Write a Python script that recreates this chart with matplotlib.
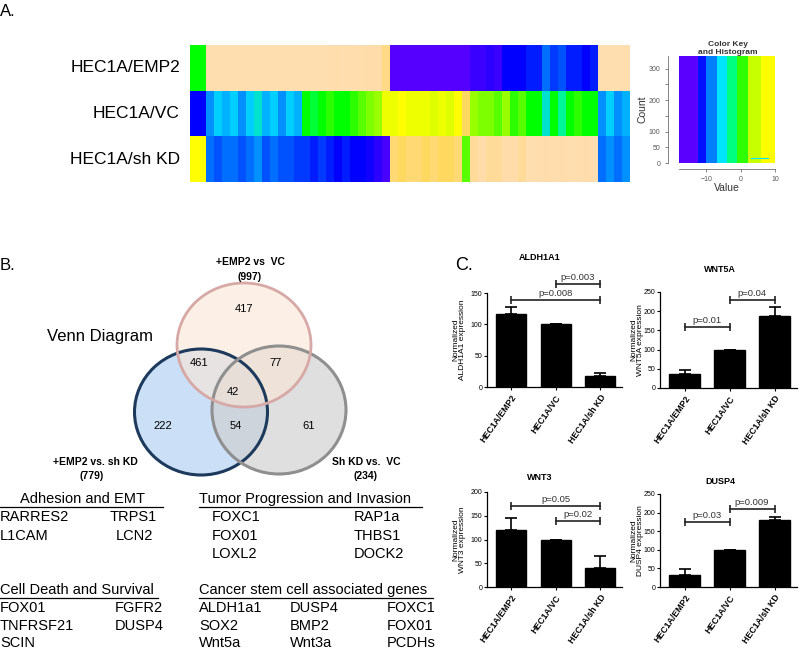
import numpy as np
import matplotlib
matplotlib.use("Agg")
import matplotlib.pyplot as plt
from matplotlib.colors import LinearSegmentedColormap, Normalize
from matplotlib.patches import Ellipse

plt.rcParams['font.family'] = ['Liberation Sans', 'DejaVu Sans']

# ---------------- data ----------------
heat_rows = ["HEC1A/EMP2", "HEC1A/VC", "HEC1A/sh KD"]
heat_emp2 = [0, 0,
             14, 14, 14, 14, 14, 14, 14, 14, 14, 14, 14, 14, 14, 14, 14, 14, 13.5, 14, 13.5, 13.5, 13, 13, 12,
             -18, -18, -18, -18, -18, -18, -18, -18, -18, -18, -16, -16, -15, -16, -12, -12, -12, -11, -11,
             -8, -10, -9, -11, -11, -12, -11,
             14, 14, 14, 14]
heat_vc = [-12, -12,
           -7, -5, -6, -5, -7, -5, -4, -6, -5, -7, -5, -6, 0, -1, 0, 1, 0, 0, 1, 2, 3, 4, 8,
           8, 9, 8, 8, 8, 7, 8, 7, 9, 11, 4, 3, 3, 2, 4, 1, 2, 0, 0,
           -4, 0, -3, 0, 1, 0, 0,
           -7, -5, -7, -6]
heat_kd = [9, 9,
           -8, -9, -8, -8, -9, -8, -7, -9, -8, -9, -9, -10, -10, -11, -10, -11, -12, -11, -12, -12, -13, -15, -17,
           11.5, 11, 11.5, 11.5, 11, 11.5, 11, 11, 11.5, 2, 12.5, 13, 12.5, 12.5, 13, 13, 12.5, 14, 14,
           13, 14, 13, 14, 14, 13, 14,
           -8, -7, -8, -7]

key_edges = [-18, -12.5, -10, -7, -4, -1, 2, 6, 10]
key_hist_x = [3, 8]
key_hist_y = [15, 15]

venn_counts = {"417": (244, 309), "461": (199, 363), "77": (276, 363), "42": (233, 392),
               "222": (163, 426), "54": (236, 426), "61": (309, 426)}

groups = ["HEC1A/EMP2", "HEC1A/VC", "HEC1A/sh KD"]
aldh_mean = [116, 100, 17]
aldh_err = [11, 0.6, 6]
wnt5a_mean = [37, 100, 187]
wnt5a_err = [11, 0, 25]
wnt3_mean = [120, 100, 40]
wnt3_err = [26, 0, 26]
dusp4_mean = [33, 100, 180]
dusp4_err = [15, 0, 8]
aldh_p = [(0, 2, 139, "p=0.008"), (1, 2, 164, "p=0.003")]
wnt5a_p = [(0, 1, 159, "p=0.01"), (1, 2, 229, "p=0.04")]
wnt3_p = [(0, 2, 170, "p=0.05"), (1, 2, 139, "p=0.02")]
dusp4_p = [(0, 1, 175, "p=0.03"), (1, 2, 210, "p=0.009")]

W, H = 800, 651
fig = plt.figure(figsize=(W / 100, H / 100), dpi=100)


def px_axes(x0, y0, x1, y1):
    return fig.add_axes([x0 / W, 1 - y1 / H, (x1 - x0) / W, (y1 - y0) / H])


# overlay for free text and Venn
ov = px_axes(0, 0, W, H)
ov.set_xlim(0, W)
ov.set_ylim(H, 0)
ov.axis("off")

# ---------------- A: heatmap ----------------
cmap = LinearSegmentedColormap.from_list(
    "heat",
    [(0.0, "#5500ff"), (6 / 33, "#0000ff"), (10 / 33, "#0070ff"), (13 / 33, "#00d0ff"),
     (15.5 / 33, "#00ff80"), (18 / 33, "#00ff00"), (21 / 33, "#80ff00"), (24 / 33, "#ccff00"),
     (27 / 33, "#ffff00"), (29 / 33, "#ffd860"), (31 / 33, "#ffdcaa"), (1.0, "#fee0b4")])
norm = Normalize(-18, 15)

hx = px_axes(190, 45, 630, 182)
heat = np.array([heat_emp2, heat_vc, heat_kd])
hx.pcolormesh(heat, cmap=cmap, norm=norm)
hx.set_ylim(3, 0)
hx.axis("off")
for i, name in enumerate(heat_rows):
    ov.text(180, 68 + 45.5 * i, name, ha="right", va="center", fontsize=12.5)
ov.text(0, 12, "A.", fontsize=12, va="center")

# color key
kx = px_axes(679, 56, 775, 163)
key_cols = ['#5a00ff', '#0010ff', '#0080ff', '#00e5ff', '#00ff80', '#30ff00', '#c8ff00', '#ffff00']
for a, b, c in zip(key_edges[:-1], key_edges[1:], key_cols):
    kx.axvspan(a, b, color=c, lw=0)
kx.plot(key_hist_x, key_hist_y, color="#00e5ff", lw=0.8)
kx.set_xlim(-18, 10)
kx.set_ylim(0, 340)
kx.set_yticks([0, 50, 100, 150, 200, 250, 300])
kx.set_yticklabels(["0", "50", "100", "", "200", "", "300"], rotation=90, va="center")
kx.set_xticks([-10, 0, 10])
kx.tick_params(labelsize=5, colors="#555555", length=2, width=0.5)
for s in ["top", "right"]:
    kx.spines[s].set_visible(False)
kx.spines["left"].set_position(("outward", 8))
kx.spines["bottom"].set_position(("outward", 4))
for s in ["left", "bottom"]:
    kx.spines[s].set_linewidth(0.5)
    kx.spines[s].set_color("#555555")
kx.set_xlabel("Value", fontsize=7.5, labelpad=0, color="#333333")
kx.set_ylabel("Count", fontsize=7.5, labelpad=1, color="#333333")
ov.text(728, 45, "Color Key", ha="center", va="center", fontsize=6, fontweight="bold", color="#333333")
ov.text(728, 53, "and Histogram", ha="center", va="center", fontsize=6, fontweight="bold", color="#333333")

# ---------------- B: Venn ----------------
ov.text(0, 265, "B.", fontsize=12, va="center")
ov.add_patch(Ellipse((201, 412), 133, 126, fc="#c6dcf5", ec="none", alpha=0.9))
ov.add_patch(Ellipse((279, 410), 134, 128, fc="#cfcfcf", ec="none", alpha=0.65))
ov.add_patch(Ellipse((244, 345), 134, 124, fc="#fbe6d6", ec="none", alpha=0.6))
ov.add_patch(Ellipse((201, 412), 133, 126, fc="none", ec="#1d3a5c", lw=2.2))
ov.add_patch(Ellipse((279, 410), 134, 128, fc="none", ec="#8f8f8f", lw=2.2))
ov.add_patch(Ellipse((244, 345), 134, 124, fc="none", ec="#d6a9a6", lw=2.0))
for txt, (x, y) in venn_counts.items():
    ov.text(x, y, txt, ha="center", va="center", fontsize=8)
ov.text(250, 262, "+EMP2 vs  VC", ha="center", va="center", fontsize=7.5, fontweight="bold")
ov.text(250, 277, "(997)", ha="center", va="center", fontsize=7.5, fontweight="bold")
ov.text(95, 462, "+EMP2 vs. sh KD", ha="center", va="center", fontsize=7.5, fontweight="bold")
ov.text(92, 476, "(779)", ha="center", va="center", fontsize=7.5, fontweight="bold")
ov.text(366, 462, "Sh KD vs.  VC", ha="center", va="center", fontsize=7.5, fontweight="bold")
ov.text(366, 476, "(234)", ha="center", va="center", fontsize=7.5, fontweight="bold")
ov.text(100, 337, "Venn Diagram", ha="center", va="center", fontsize=12)

# gene lists
gfs = 10.5
ov.text(82, 499, "Adhesion and EMT", ha="center", va="center", fontsize=gfs)
ov.plot([0, 163], [507, 507], color="black", lw=0.9)
for y, a in [(517, "RARRES2"), (536, "L1CAM")]:
    ov.text(0, y, a, va="center", fontsize=gfs)
ov.text(157, 517, "TRPS1", va="center", ha="right", fontsize=gfs)
ov.text(153, 536, "LCN2", va="center", ha="right", fontsize=gfs)

ov.text(199, 499, "Tumor Progression and Invasion", va="center", fontsize=gfs)
ov.plot([199, 422], [507, 507], color="black", lw=0.9)
for y, a, b in [(517, "FOXC1", "RAP1a"), (536, "FOX01", "THBS1"), (554, "LOXL2", "DOCK2")]:
    ov.text(212, y, a, va="center", fontsize=gfs)
    ov.text(354, y, b, va="center", fontsize=gfs)

ov.text(0, 590, "Cell Death and Survival", va="center", fontsize=gfs)
ov.plot([0, 158], [598, 598], color="black", lw=0.9)
for y, a, b in [(608, "FOX01", "FGFR2"), (626, "TNFRSF21", "DUSP4"), (643, "SCIN", "")]:
    ov.text(0, y, a, va="center", fontsize=gfs)
    ov.text(115, y, b, va="center", fontsize=gfs)

ov.text(199, 590, "Cancer stem cell associated genes", va="center", fontsize=gfs)
ov.plot([199, 433], [598, 598], color="black", lw=0.9)
for y, a, b, c in [(608, "ALDH1a1", "DUSP4", "FOXC1"), (626, "SOX2", "BMP2", "FOX01"),
                   (643, "Wnt5a", "Wnt3a", "PCDHs")]:
    ov.text(199, y, a, va="center", fontsize=gfs)
    ov.text(290, y, b, va="center", fontsize=gfs)
    ov.text(387, y, c, va="center", fontsize=gfs)

# ---------------- C: bar charts ----------------
ov.text(455, 266, "C.", fontsize=13, va="center")


def bar_panel(box, title, title_xy, means, errs, ymax, step, pvals, gene, ylab_x):
    ax = px_axes(*box)
    ax.set_facecolor("none")
    x = np.arange(len(groups))
    ax.bar(x, means, width=0.68, color="black", edgecolor="black")
    ax.errorbar(x, means, yerr=[np.zeros(3), errs], fmt="none", ecolor="black",
                elinewidth=1.2, capsize=4, capthick=1.2)
    for i0, i1, y, lab in pvals:
        ax.plot([i0, i1], [y, y], color="#222222", lw=1.2, marker="|", ms=6, mew=1.2, clip_on=False)
        ax.text((i0 + i1) / 2, y + ymax * 0.02, lab, ha="center", va="bottom", fontsize=6.8,
                color="#333333", clip_on=False)
    ax.set_xlim(-0.55, 2.5)
    ax.set_ylim(0, ymax)
    ax.set_yticks(np.arange(0, ymax + 1, step))
    ax.set_xticks(x)
    ax.set_xticklabels(groups, rotation=55, ha="right", rotation_mode="anchor",
                       fontsize=6.3, fontweight="bold")
    ax.tick_params(axis="y", labelsize=5, length=2.5, width=0.8, pad=1)
    ax.tick_params(axis="x", length=2.5, width=0.8, pad=2)
    for s in ["top", "right"]:
        ax.spines[s].set_visible(False)
    for s in ["left", "bottom"]:
        ax.spines[s].set_linewidth(0.9)
    ov.text(title_xy[0], title_xy[1], title, ha="center", va="center", fontsize=6.5, fontweight="bold")
    ov.text(ylab_x, (box[1] + box[3]) / 2, "Normalized\n" + gene + " expression", rotation=90,
            ha="center", va="center", fontsize=6, linespacing=1.0)
    return ax


bar_panel((487, 293, 622, 387), "ALDH1A1", (540, 258), aldh_mean, aldh_err, 150, 50,
          aldh_p, "ALDH1A1", 459)
bar_panel((660, 292, 797, 388), "WNT5A", (720, 270), wnt5a_mean, wnt5a_err, 250, 50,
          wnt5a_p, "WNT5A", 637)
bar_panel((487, 492, 622, 587), "WNT3", (540, 478), wnt3_mean, wnt3_err, 200, 50,
          wnt3_p, "WNT3", 459)
bar_panel((660, 494, 797, 587), "DUSP4", (720, 481), dusp4_mean, dusp4_err, 250, 50,
          dusp4_p, "DUSP4", 637)

fig.savefig("out.png", dpi=100)
